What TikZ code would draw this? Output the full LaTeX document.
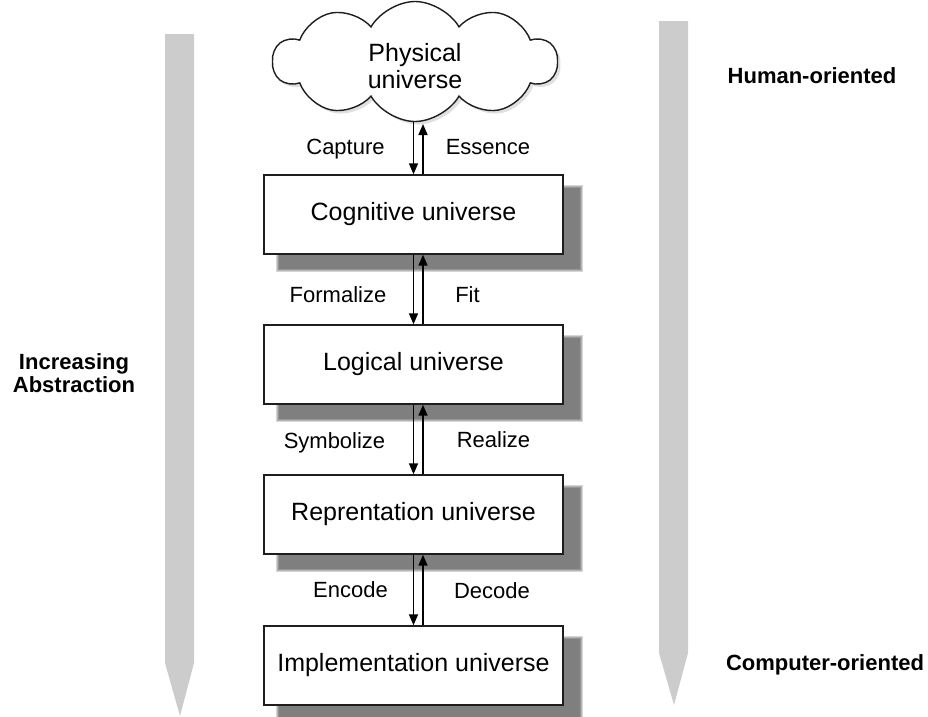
\documentclass[tikz,border=0pt]{standalone}
\usepackage{fontspec}
\setmainfont{Liberation Sans}
\usetikzlibrary{shapes.symbols,arrows.meta,backgrounds}

\definecolor{barfill}{HTML}{CCCCCC}
\definecolor{edge}{HTML}{1E1E1E}

\tikzset{
  universe/.style={draw=edge, line width=1.4pt, fill=white, minimum width=299pt,
    minimum height=79pt, inner sep=0pt, font=\fontsize{25}{28}\selectfont},
  cloudshape/.style={cloud, cloud ignores aspect, cloud puffs=10,
    cloud puff arc=120, minimum width=284pt, minimum height=120pt, inner sep=0pt},
  cloudbox/.style={cloudshape, draw=edge, line width=1.4pt, fill=white},
  cloudtext/.style={align=center, inner sep=0pt, font=\fontsize{25}{27}\selectfont},
  flow/.style={line width=1.6pt, -{Triangle[length=11pt,width=9pt]}},
  steplabel/.style={font=\fontsize{22}{24}\selectfont, text height=15.8pt, text depth=0pt, inner sep=0pt},
  sidelabel/.style={font=\fontsize{22}{23}\selectfont\bfseries, inner sep=0pt, align=center},
  bar/.style={fill=barfill, draw=none},
}

% soft drop shadow behind a named box
\newcommand{\softshadow}[1]{%
  \foreach \e in {3,2,1,0}{
    \fill[black, opacity=0.16]
      ([shift={(16-\e,14-\e)}]#1.north west) rectangle ([shift={(16+\e,14+\e)}]#1.south east);
  }%
}

\begin{document}
\begin{tikzpicture}[x=1pt, y=-1pt]
\useasboundingbox (0,0) rectangle (928,716);

% abstraction bars
\fill[bar] (165,34) -- (194,34) -- (194,663) -- (180,716) -- (165,663) -- cycle;
\fill[bar] (659,21) -- (688,21) -- (688,653) -- (674,705) -- (659,653) -- cycle;

% faint shadow under the cloud
\node[cloudshape, fill=black, opacity=0.12] (physshadow) at (418,64.5) {};

% universes
\node[cloudbox] (phys) at (415,61.5) {};
\node[cloudtext] (physlabel) at (415,66) {Physical\\universe};
\node[universe] (cog)  at (413.5,214.5) {Cognitive universe};
\node[universe] (log)  at (413.5,364.5) {Logical universe};
\node[universe] (rep)  at (413.5,514.5) {Reprentation universe};
\node[universe] (impl) at (413.5,665.5) {Implementation universe};

\begin{scope}[on background layer]
  \softshadow{cog}
  \softshadow{log}
  \softshadow{rep}
  \softshadow{impl}
\end{scope}

% transitions
\draw[flow] (phys.south -| cog.north) -- (cog.north);
\draw[flow] ([xshift=9.5pt]cog.north) -- ([xshift=9.5pt]cog.north |- 0,124);
\draw[flow] (cog.south) -- (log.north);
\draw[flow] ([xshift=9.5pt]log.north) -- ([xshift=9.5pt]cog.south);
\draw[flow] (log.south) -- (rep.north);
\draw[flow] ([xshift=9.5pt]rep.north) -- ([xshift=9.5pt]log.south);
\draw[flow] (rep.south) -- (impl.north);
\draw[flow] ([xshift=9.5pt]impl.north) -- ([xshift=9.5pt]rep.south);

% transition labels
\node[steplabel] (capture)   at (345.5,147) {Capture};
\node[steplabel] (essence)   at (488,147)   {Essence};
\node[steplabel] (formalize) at (338,295)   {Formalize};
\node[steplabel] (fit)       at (467.5,295) {Fit};
\node[steplabel] (symbolize) at (334.5,441) {Symbolize};
\node[steplabel] (realize)   at (493.5,440) {Realize};
\node[steplabel] (encode)    at (350.5,590) {Encode};
\node[steplabel] (decode)    at (492,591)   {Decode};

% side labels
\node[sidelabel] (abstraction) at (74,373) {Increasing\\Abstraction};
\node[sidelabel] (human)    at (812,76)  {Human-oriented};
\node[sidelabel] (computer) at (825,665) {Computer-oriented};
\end{tikzpicture}
\end{document}
